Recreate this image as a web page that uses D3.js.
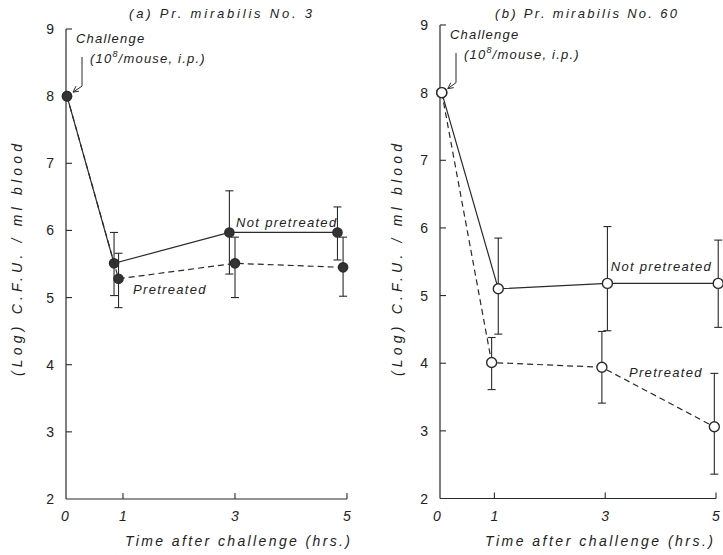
<!DOCTYPE html>
<html>
<head>
<meta charset="utf-8">
<script src="https://cdn.jsdelivr.net/npm/d3@7"></script>
<style>
  body { margin: 0; background: #fff; }
  svg text { font-family: "Liberation Sans", Arial, sans-serif; fill: #222; }
</style>
</head>
<body>
<div id="container"></div>
<script>
/* DATA */
const xTicks = [1, 3, 5];
const xTickLabels = ["0", "1", "3", "5"];
const yTicks = [2, 3, 4, 5, 6, 7, 8, 9];

// (a) Pr. mirabilis No. 3 - filled markers
const aNotTime = [0, 0.84, 2.9, 4.83];
const aNotVal  = [8, 5.51, 5.97, 5.97];
const aNotHi   = [null, 5.97, 6.59, 6.35];
const aNotLo   = [null, 5.03, 5.35, 5.56];
const aPreTime = [0, 0.92, 3.0, 4.93];
const aPreVal  = [8, 5.28, 5.51, 5.45];
const aPreHi   = [null, 5.66, 5.90, 5.90];
const aPreLo   = [null, 4.85, 5.00, 5.02];

// (b) Pr. mirabilis No. 60 - open markers
const bNotTime = [0.05, 1.07, 3.04, 5.04];
const bNotVal  = [8, 5.10, 5.18, 5.18];
const bNotHi   = [null, 5.85, 6.02, 5.82];
const bNotLo   = [null, 4.43, 4.48, 4.53];
const bPreTime = [0.05, 0.95, 2.94, 4.97];
const bPreVal  = [8, 4.01, 3.94, 3.06];
const bPreHi   = [null, 4.38, 4.47, 3.85];
const bPreLo   = [null, 3.61, 3.41, 2.36];

const ink = "#2a2a2a";

const svg = d3.select("#container")
  .append("svg")
  .attr("width", 723)
  .attr("height", 555);

function toRows(t, v, hi, lo) {
  return t.map((d, i) => ({ t: d, v: v[i], hi: hi[i], lo: lo[i] }));
}

function drawPanel(p) {
  const x = d3.scaleLinear().domain([0, 5]).range(p.xRange);
  const y = d3.scaleLinear().domain([2, 9]).range(p.yRange);
  const g = svg.append("g");

  // axes: plain lines with inward ticks
  g.append("line")
    .attr("x1", p.axisX).attr("x2", p.axisX)
    .attr("y1", y(2)).attr("y2", y(9))
    .attr("stroke", ink).attr("stroke-width", 1.2);
  g.append("line")
    .attr("x1", p.axisX).attr("x2", x(5))
    .attr("y1", y(2)).attr("y2", y(2))
    .attr("stroke", ink).attr("stroke-width", 1.2);

  g.selectAll(".ytick").data(yTicks.slice(1)).join("line")
    .attr("x1", p.axisX).attr("x2", p.axisX + 6)
    .attr("y1", d => y(d)).attr("y2", d => y(d))
    .attr("stroke", ink).attr("stroke-width", 1.1);
  g.selectAll(".ylab").data(yTicks).join("text")
    .attr("x", p.axisX - 12)
    .attr("y", d => y(d) + 5)
    .attr("text-anchor", "end")
    .attr("font-size", 14)
    .text(d => d);

  g.selectAll(".xtick").data(xTicks).join("line")
    .attr("x1", d => x(d)).attr("x2", d => x(d))
    .attr("y1", y(2)).attr("y2", y(2) - 6)
    .attr("stroke", ink).attr("stroke-width", 1.1);
  g.selectAll(".xlab").data([0].concat(xTicks)).join("text")
    .attr("x", d => x(d) - (d === 0 ? 2 : 0))
    .attr("y", y(2) + 22)
    .attr("text-anchor", "middle")
    .attr("font-size", 14)
    .attr("font-style", "italic")
    .text((d, i) => xTickLabels[i]);

  // axis titles
  g.append("text")
    .attr("transform", `translate(${p.yLabelX},260) rotate(-90)`)
    .attr("text-anchor", "middle")
    .attr("font-size", 14)
    .attr("font-style", "italic")
    .attr("textLength", 232).attr("lengthAdjust", "spacing")
    .text("(Log)  C.F.U. / ml  blood");
  g.append("text")
    .attr("x", p.xLabelX).attr("y", 546)
    .attr("font-size", 14)
    .attr("font-style", "italic")
    .attr("textLength", p.xLabelLen).attr("lengthAdjust", "spacing")
    .text("Time  after  challenge (hrs.)");

  // panel title
  g.append("text")
    .attr("x", p.titleX).attr("y", 18)
    .attr("font-size", 13)
    .attr("font-style", "italic")
    .attr("textLength", p.titleLen).attr("lengthAdjust", "spacing")
    .text(p.title);

  // challenge annotation
  g.append("text")
    .attr("x", p.axisX + 10).attr("y", y(9) + 14)
    .attr("font-size", 13).attr("font-style", "italic")
    .attr("letter-spacing", 1.2)
    .text("Challenge");
  const note = g.append("text")
    .attr("x", p.axisX + 24).attr("y", y(9) + 34)
    .attr("font-size", 13).attr("font-style", "italic")
    .attr("letter-spacing", 1.2);
  note.append("tspan").text("(10");
  note.append("tspan").attr("dy", -6).attr("font-size", 9).text("8");
  note.append("tspan").attr("dy", 6).text("/mouse, i.p.)");

  const ax0 = p.axisX + 16, ay0 = y(9) + 28, ay1 = y(8) - 10;
  const tipX = x(p.pNot[0].t) + 6, tipY = y(8) - 4;
  g.append("path")
    .attr("d", `M${ax0},${ay0} L${ax0},${ay1} L${tipX},${tipY}`)
    .attr("fill", "none").attr("stroke", ink).attr("stroke-width", 1);
  g.append("path")
    .attr("d", `M${tipX + 6},${tipY - 1} L${tipX},${tipY} L${tipX + 3},${tipY - 6}`)
    .attr("fill", "none").attr("stroke", ink).attr("stroke-width", 1);

  const line = d3.line().x(d => x(d.t)).y(d => y(d.v));

  [[p.pNot, null], [p.pPre, "6,4"]].forEach(([rows, dash]) => {
    g.append("path")
      .datum(rows)
      .attr("d", line)
      .attr("fill", "none")
      .attr("stroke", ink)
      .attr("stroke-width", 1.2)
      .attr("stroke-dasharray", dash);

    const bars = rows.filter(d => d.hi != null);
    g.selectAll(null).data(bars).join("line")
      .attr("x1", d => x(d.t)).attr("x2", d => x(d.t))
      .attr("y1", d => y(d.hi)).attr("y2", d => y(d.lo))
      .attr("stroke", ink).attr("stroke-width", 1.1);
    ["hi", "lo"].forEach(k => {
      g.selectAll(null).data(bars).join("line")
        .attr("x1", d => x(d.t) - 4).attr("x2", d => x(d.t) + 4)
        .attr("y1", d => y(d[k])).attr("y2", d => y(d[k]))
        .attr("stroke", ink).attr("stroke-width", 1.1);
    });

    g.selectAll(null).data(rows).join("circle")
      .attr("cx", d => x(d.t)).attr("cy", d => y(d.v))
      .attr("r", p.filled ? 4.6 : 5)
      .attr("fill", p.filled ? "#333" : "#fff")
      .attr("stroke", ink)
      .attr("stroke-width", 1.4);
  });

  // series labels
  p.labels.forEach(l => {
    g.append("text")
      .attr("x", x(l.t)).attr("y", y(l.v))
      .attr("font-size", 13).attr("font-style", "italic")
      .attr("letter-spacing", 1.3)
      .text(l.text);
  });
}

drawPanel({
  xRange: [67, 347], yRange: [499, 29], axisX: 66,
  yLabelX: 22, xLabelX: 125, xLabelLen: 225,
  title: "(a)  Pr. mirabilis  No. 3", titleX: 129, titleLen: 183,
  filled: true,
  pNot: toRows(aNotTime, aNotVal, aNotHi, aNotLo),
  pPre: toRows(aPreTime, aPreVal, aPreHi, aPreLo),
  labels: [
    { text: "Not pretreated", t: 3.02, v: 6.05 },
    { text: "Pretreated", t: 1.18, v: 5.05 }
  ]
});

drawPanel({
  xRange: [439, 716], yRange: [498.5, 25], axisX: 440,
  yLabelX: 402, xLabelX: 485, xLabelLen: 228,
  title: "(b)  Pr. mirabilis  No. 60", titleX: 495, titleLen: 182,
  filled: false,
  pNot: toRows(bNotTime, bNotVal, bNotHi, bNotLo),
  pPre: toRows(bPreTime, bPreVal, bPreHi, bPreLo),
  labels: [
    { text: "Not pretreated", t: 3.1, v: 5.37 },
    { text: "Pretreated", t: 3.43, v: 3.8 }
  ]
});
</script>
</body>
</html>
